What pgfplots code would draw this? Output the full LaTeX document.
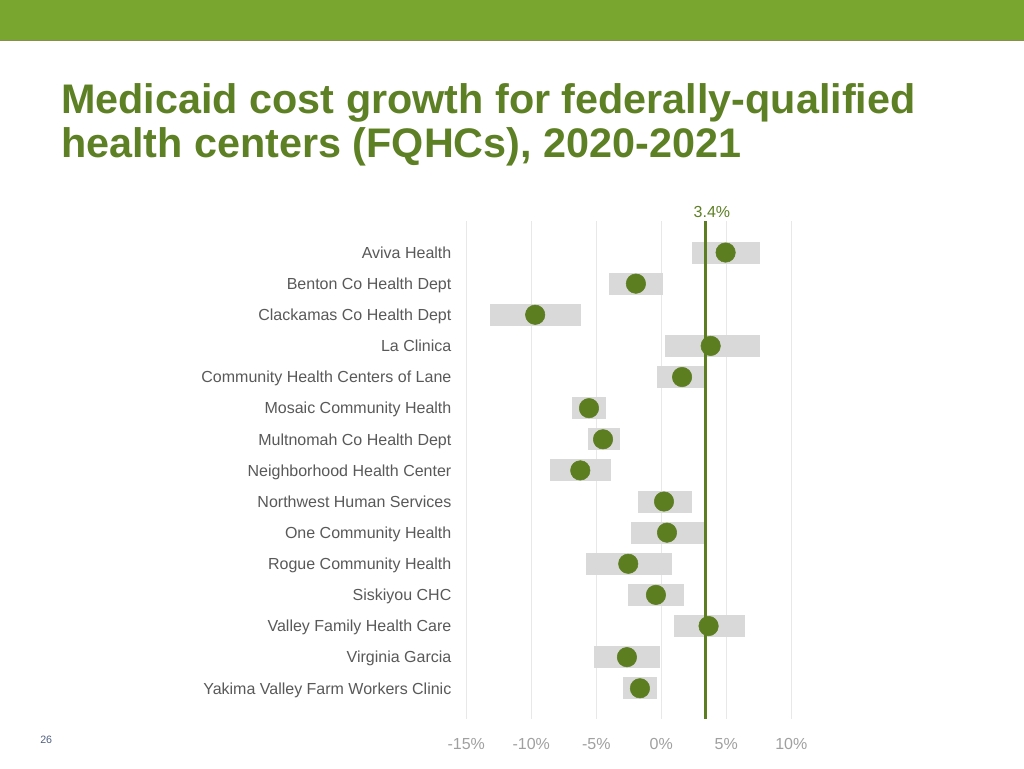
\documentclass[border=0pt]{standalone}
\usepackage{pgfplots}
\pgfplotsset{compat=1.18}
\usepackage{pgfplotstable}
\usepackage{fontspec}
\setmainfont{Liberation Sans}

\definecolor{topgreen}{RGB}{120,166,47}
\definecolor{edgeolive}{RGB}{140,140,80}
\definecolor{titlegreen}{RGB}{94,128,36}
\definecolor{dotgreen}{RGB}{92,126,32}
\definecolor{bargray}{RGB}{217,217,217}
\definecolor{gridgray}{RGB}{232,232,232}
\definecolor{labelgray}{RGB}{89,89,89}
\definecolor{tickgray}{RGB}{160,160,160}
\definecolor{pagenum}{RGB}{80,96,128}

% row, range low/high and centre value (percent)
\pgfplotstableread{
row lo hi dot
1 2.38 7.59 4.95
2 -4.00 0.15 -1.95
3 -13.2 -6.20 -9.70
4 0.26 7.59 3.80
5 -0.33 3.50 1.60
6 -6.87 -4.23 -5.56
7 -5.60 -3.20 -4.48
8 -8.54 -3.87 -6.23
9 -1.82 2.38 0.21
10 -2.33 3.40 0.44
11 -5.79 0.82 -2.54
12 -2.54 1.75 -0.41
13 0.98 6.44 3.64
14 -5.15 -0.10 -2.64
15 -2.95 -0.33 -1.64
}\fqhc

\begin{document}
\begin{tikzpicture}[x=0.75pt,y=0.75pt]
\useasboundingbox (0,0) rectangle (1024,768);
\fill[white] (0,0) rectangle (1024,768);
% top band
\fill[topgreen] (0,728) rectangle (1024,768);
\draw[edgeolive,line width=0.8pt] (0,727.6) -- (1024,727.6);

\node[anchor=base west,inner sep=0pt,text=titlegreen,font=\bfseries\fontsize{31}{36}\selectfont]
  at (61,654.7) {Medicaid cost growth for federally-qualified};
\node[anchor=base west,inner sep=0pt,text=titlegreen,font=\bfseries\fontsize{31}{36}\selectfont]
  at (61,610) {health centers (FQHCs), 2020-2021};

\node[anchor=base west,inner sep=0pt,text=pagenum,font=\fontsize{8}{9}\selectfont]
  at (40,25) {26};

\begin{axis}[
  at={(349.7pt,36.45pt)}, anchor=south west,
  scale only axis,
  width=243.75pt, height=373.5pt,
  xmin=-15, xmax=10,
  ymin=0, ymax=16,
  y dir=reverse,
  axis line style={draw=none},
  major tick length=0pt,
  xtick={-15,-10,-5,0,5,10},
  xticklabels={-15\%,-10\%,-5\%,0\%,5\%,10\%},
  xmajorgrids,
  grid style={gridgray,line width=0.75pt},
  ytick={1,...,15},
  yticklabels={Aviva Health,Benton Co Health Dept,Clackamas Co Health Dept,La Clinica,Community Health Centers of Lane,Mosaic Community Health,Multnomah Co Health Dept,Neighborhood Health Center,Northwest Human Services,One Community Health,Rogue Community Health,Siskiyou CHC,Valley Family Health Care,Virginia Garcia,Yakima Valley Farm Workers Clinic},
  yticklabel style={text=labelgray,font=\fontsize{12}{14}\selectfont,anchor=east,
    text height=8.6pt,text depth=2.5pt,inner sep=0pt,xshift=-11pt,yshift=-1.3pt},
  xticklabel style={text=tickgray,font=\fontsize{12}{14}\selectfont,
    text height=8.6pt,text depth=2.5pt,inner sep=0pt,yshift=-13.5pt},
  clip=false,
]
\addplot[draw=none,mark=none,
  error bars/.cd, x dir=both, x explicit,
  error mark=none,
  error bar style={line width=16.5pt,bargray}]
  table[x=dot,y=row,
        x error plus expr=\thisrow{hi}-\thisrow{dot},
        x error minus expr=\thisrow{dot}-\thisrow{lo}] {\fqhc};
\addplot[dotgreen,line width=2.8pt] coordinates {(3.4,0) (3.4,16)};
\addplot[only marks,mark=*,mark size=7.3pt,dotgreen,mark options={draw=none,fill=dotgreen}]
  table[x=dot,y=row] {\fqhc};
\node[anchor=base,text=titlegreen,font=\fontsize{12}{14}\selectfont,inner sep=0pt]
  at (axis cs:3.9,0) [yshift=3pt] {3.4\%};
\end{axis}
\end{tikzpicture}
\end{document}
